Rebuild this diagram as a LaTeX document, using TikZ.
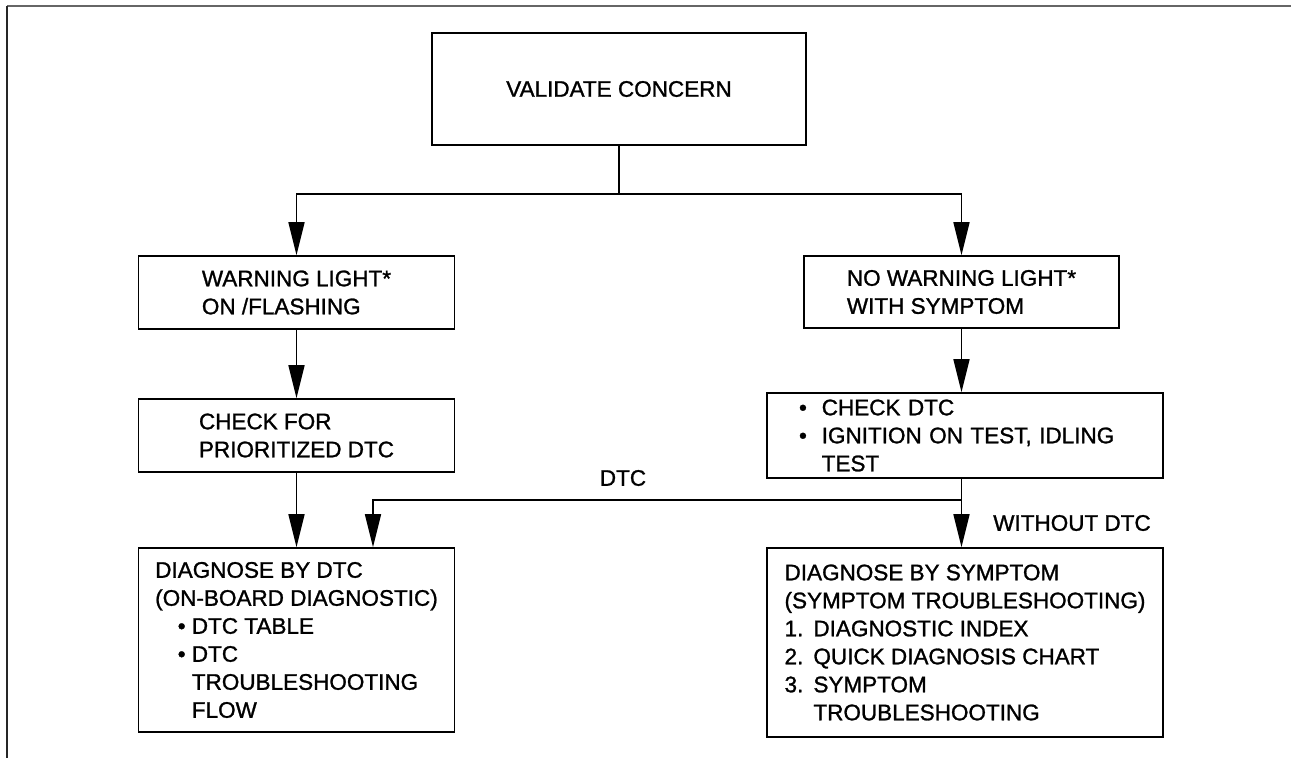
\documentclass[tikz,border=0pt]{standalone}
\usepackage{fontspec}
\setmainfont{Liberation Sans}
\newfontfamily\diafont{Liberation Sans}[FakeBold=1.2]
\usetikzlibrary{arrows.meta,calc,positioning}

\begin{document}
\begin{tikzpicture}[x=1pt,y=-1pt,>={Triangle[length=33pt,width=16pt]},
  box/.style={draw,line width=1.7pt,align=left,inner sep=0pt,
    font=\diafont\fontsize{22.5pt}{28pt}\selectfont},
  link/.style={line width=1.6pt,->},
  lbl/.style={font=\diafont\fontsize{22.5pt}{28pt}\selectfont}]
  \useasboundingbox (0,0) rectangle (1291,758);
  % frame
  \draw[black!60,line width=2pt] (7,6) -- (1291,6);
  \draw[black!85,line width=1.6pt] (7,6) -- (7,758);
  % boxes
  \node[box,align=center,minimum width=374pt,minimum height=112pt] (validate) at (619,89) {VALIDATE CONCERN};
  \node[box,minimum width=316pt,minimum height=73pt] (warn) at (296.5,292.5) {WARNING LIGHT*\\ON /FLASHING};
  \node[box,minimum width=315pt,minimum height=72pt] (nowarn) at (961.5,292) {NO WARNING LIGHT*\\WITH SYMPTOM};
  \node[box,minimum width=316pt,minimum height=73pt] (check) at (296.5,435.5) {CHECK FOR\\PRIORITIZED DTC};
  \node[box,text width=332pt,minimum width=396pt,minimum height=85pt] (checkdtc) at (965,435.5)
    {•\hspace{0.66em}CHECK DTC\\
     •\hspace{0.66em}IGNITION ON TEST, IDLING\\
     \hphantom{•}\hspace{0.66em}TEST};
  \node[box,minimum width=316pt,minimum height=184pt] (dtcbox) at (296.5,640)
    {DIAGNOSE BY DTC\\
     (ON-BOARD DIAGNOSTIC)\\
     \hspace*{1em}• DTC TABLE\\
     \hspace*{1em}• DTC\\
     \hspace*{1em}\hphantom{•}\ TROUBLESHOOTING\\
     \hspace*{1em}\hphantom{•}\ FLOW};
  \node[box,minimum width=396pt,minimum height=189pt] (symptom) at (965,642.5)
    {DIAGNOSE BY SYMPTOM\\
     (SYMPTOM TROUBLESHOOTING)\\
     1.\hspace{0.45em}DIAGNOSTIC INDEX\\
     2.\hspace{0.45em}QUICK DIAGNOSIS CHART\\
     3.\hspace{0.45em}SYMPTOM\\
     \hphantom{3.}\hspace{0.45em}TROUBLESHOOTING};
  % connectors
  \draw[link,-] (validate.south) -- ++(0,48) coordinate (split);
  \draw[link] (split) -| (warn.north);
  \draw[link] (split) -| (nowarn.north);
  \draw[link] (warn) -- (check);
  \draw[link] (check) -- (dtcbox);
  \draw[link] (nowarn.south) -- (nowarn.south |- checkdtc.north);
  \draw[link] (nowarn.south |- checkdtc.south) -- (nowarn.south |- symptom.north);
  \coordinate (dtcsplit) at ($(nowarn.south |- checkdtc.south)+(0,21)$);
  \coordinate (dtcin) at ($(dtcbox.north)+(76.5,0)$);
  \draw[link] (dtcsplit) -| (dtcin);
  % labels
  \node[lbl] (dtclabel) at (623,478) {DTC};
  \node[lbl] (nodtclabel) at (1072,523) {WITHOUT DTC};
\end{tikzpicture}
\end{document}
